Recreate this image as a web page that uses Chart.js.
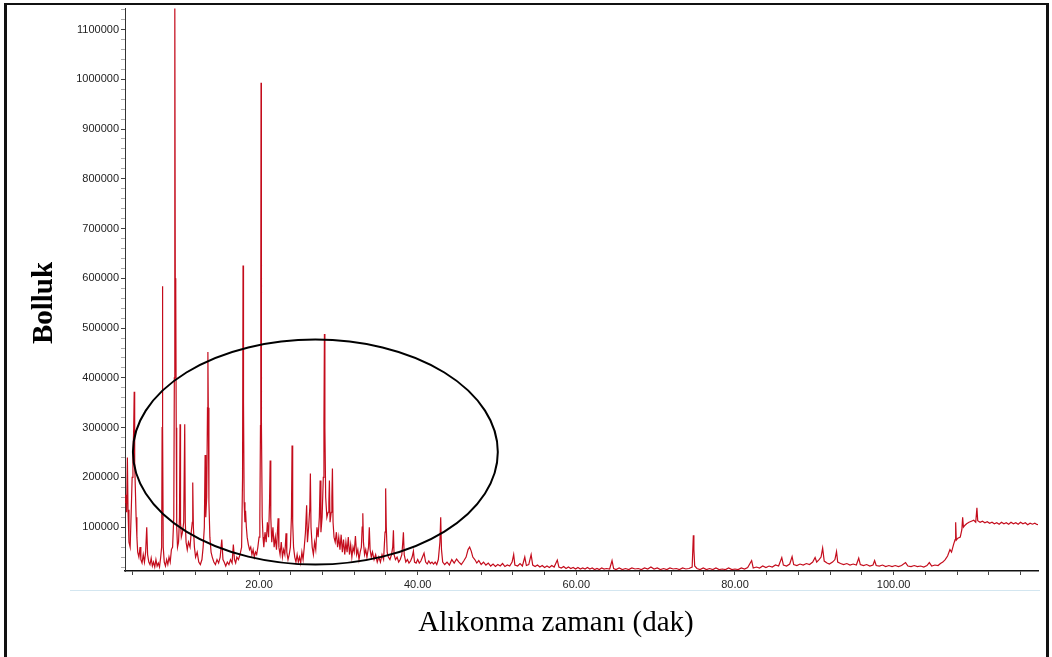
<!DOCTYPE html>
<html>
<head>
<meta charset="utf-8">
<title>Kromatogram</title>
<script src="https://cdn.jsdelivr.net/npm/chart.js@4"></script>
<style>
    html, body { margin: 0; padding: 0; background: #fff; }
    #wrap { position: relative; width: 1052px; height: 657px; overflow: hidden; }
    #chart { position: absolute; left: 0; top: 0; }
    .frame {
        position: absolute; left: 4px; top: 3px; width: 1039px; height: 720px;
        border-left: 3px solid #111; border-top: 2px solid #111; border-right: 3px solid #111;
    }
    .panel-edge { position: absolute; left: 70px; top: 590px; width: 970px; height: 1px; background: #d3e6f0; }
    .y-title {
        position: absolute; left: 42px; top: 303px;
        font: bold 29px "Liberation Serif", "Times New Roman", serif; line-height: 1;
        transform: translate(-50%, -50%) rotate(-90deg); white-space: nowrap; color: #000;
    }
    .x-title {
        position: absolute; left: 556px; top: 607px;
        font: 29px "Liberation Serif", "Times New Roman", serif; line-height: 1;
        transform: translateX(-50%); white-space: nowrap; color: #000;
    }
</style>
</head>
<body>
<div id="wrap">
    <canvas id="chart" width="1052" height="657"></canvas>
    <div class="panel-edge"></div>
    <div class="frame"></div>
    <div class="y-title">Bolluk</div>
    <div class="x-title">Alıkonma zamanı (dak)</div>
</div>
<script>
(function() {
    'use strict';

    // ===================================
    // Data
    // ===================================

    // 3 - 20.5 dak: big early peaks
    const timesA = [
        3.10, 3.20, 3.30, 3.40, 3.48, 3.60, 3.75, 3.90, 4.00, 4.10, 4.20, 4.26, 4.32, 4.40, 4.50, 4.60,
        4.70, 4.85, 5.00, 5.10, 5.25, 5.40, 5.55, 5.70, 5.84, 5.95, 6.10, 6.25, 6.40, 6.55, 6.70, 6.85,
        7.00, 7.15, 7.30, 7.45, 7.60, 7.72, 7.78, 7.82, 7.86, 7.92, 8.05, 8.20, 8.35, 8.50, 8.65, 8.80,
        8.95, 9.10, 9.25, 9.32, 9.36, 9.40, 9.44, 9.50, 9.56, 9.62, 9.72, 9.85, 9.97, 10.04, 10.10, 10.20,
        10.35, 10.50, 10.63, 10.70, 10.80, 10.95, 11.10, 11.30, 11.45, 11.58, 11.64, 11.72, 11.85, 12.00,
        12.20, 12.40, 12.60, 12.80, 12.95, 13.10, 13.20, 13.28, 13.40, 13.50, 13.55, 13.60, 13.68, 13.80,
        13.95, 14.10, 14.30, 14.50, 14.70, 14.90, 15.10, 15.30, 15.45, 15.60, 15.80, 16.00, 16.20, 16.40,
        16.60, 16.76, 16.90, 17.05, 17.20, 17.40, 17.60, 17.80, 17.92, 17.98, 18.04, 18.12, 18.22, 18.30,
        18.40, 18.50, 18.65, 18.80, 18.95, 19.10, 19.25, 19.40, 19.55, 19.70, 19.85, 20.00, 20.10, 20.18,
        20.22, 20.25, 20.28, 20.32, 20.40, 20.50
    ];
    const abundanceA = [
        150000, 165000, 130000, 240000, 135000, 70000, 60000, 140000, 200000, 240000, 300000, 372000, 230000, 180000, 120000, 80000,
        50000, 40000, 60000, 35000, 28000, 45000, 30000, 50000, 100000, 45000, 30000, 25000, 38000, 22000, 30000, 20000,
        35000, 22000, 28000, 20000, 40000, 60000, 300000, 584000, 300000, 60000, 30000, 22000, 35000, 25000, 40000, 30000,
        55000, 60000, 120000, 400000, 608000, 1160000, 600000, 571000, 300000, 100000, 60000, 70000, 120000, 307000, 110000, 80000,
        90000, 110000, 307000, 110000, 70000, 55000, 70000, 60000, 90000, 110000, 190000, 100000, 60000, 40000,
        50000, 30000, 25000, 35000, 60000, 100000, 245000, 120000, 160000, 340000, 452000, 340000, 150000, 80000,
        50000, 40000, 30000, 25000, 35000, 28000, 40000, 75000, 35000, 30000, 22000, 30000, 25000, 35000,
        28000, 65000, 35000, 28000, 40000, 35000, 45000, 60000, 200000, 626000, 352000, 150000, 110000, 133000,
        100000, 80000, 65000, 55000, 60000, 45000, 55000, 40000, 50000, 45000, 60000, 80000, 120000, 304000,
        586000, 993000, 586000, 304000, 120000, 80000
    ];

    // 20.5 - 46 dak: dense mid region (inside the ellipse)
    const timesB = [
        20.60, 20.75, 20.90, 21.05, 21.20, 21.32, 21.40, 21.48, 21.60, 21.75, 21.90, 22.05, 22.20, 22.40, 22.50, 22.65,
        22.80, 22.95, 23.10, 23.25, 23.40, 23.50, 23.65, 23.80, 23.95, 24.08, 24.16, 24.24, 24.35, 24.50, 24.65, 24.80,
        24.95, 25.10, 25.25, 25.40, 25.55, 25.70, 25.85, 26.00, 26.10, 26.25, 26.40, 26.47, 26.55, 26.70, 26.85, 27.00,
        27.15, 27.30, 27.45, 27.60, 27.70, 27.80, 27.95, 28.10, 28.18, 28.24, 28.30, 28.40, 28.55, 28.70, 28.80, 28.87,
        28.95, 29.10, 29.18, 29.25, 29.33, 29.45, 29.60, 29.75, 29.90, 30.05, 30.20, 30.35, 30.50, 30.65, 30.80, 30.95,
        31.10, 31.25, 31.40, 31.55, 31.70, 31.85, 32.00, 32.15, 32.30, 32.45, 32.60, 32.75, 32.90, 33.00, 33.08, 33.16,
        33.30, 33.45, 33.60, 33.80, 33.90, 34.00, 34.15, 34.30, 34.50, 34.70, 34.90, 35.10, 35.30, 35.50, 35.70, 35.88,
        35.96, 36.04, 36.15, 36.30, 36.50, 36.70, 36.85, 36.94, 37.02, 37.20, 37.40, 37.60, 37.80, 38.00, 38.12, 38.20,
        38.30, 38.50, 38.70, 38.90, 39.10, 39.30, 39.46, 39.60, 39.80, 40.00, 40.20, 40.40, 40.60, 40.80, 41.00, 41.20,
        41.40, 41.60, 41.80, 42.00, 42.20, 42.40, 42.60, 42.80, 42.90, 43.00, 43.15, 43.40, 43.70, 44.00, 44.30, 44.60,
        44.90, 45.20, 45.50, 45.80
    ];
    const abundanceB = [
        60000, 90000, 70000, 110000, 80000, 150000, 234000, 120000, 70000, 100000, 60000, 80000, 55000, 118000, 60000, 45000,
        70000, 40000, 55000, 45000, 88000, 50000, 35000, 45000, 60000, 120000, 264000, 110000, 60000, 40000, 30000, 45000,
        30000, 40000, 28000, 50000, 35000, 60000, 90000, 144000, 70000, 100000, 140000, 208000, 100000, 60000, 45000, 70000,
        55000, 100000, 80000, 120000, 194000, 90000, 120000, 200000, 308000, 488000, 300000, 160000, 120000, 130000, 150000, 194000,
        110000, 130000, 160000, 218000, 110000, 80000, 70000, 90000, 60000, 80000, 55000, 85000, 50000, 75000, 45000, 70000,
        50000, 80000, 45000, 65000, 40000, 60000, 50000, 82000, 45000, 55000, 35000, 50000, 60000, 100000, 128000, 70000,
        45000, 55000, 40000, 60000, 100000, 55000, 40000, 50000, 35000, 45000, 30000, 40000, 30000, 45000, 35000, 90000,
        178000, 100000, 50000, 40000, 35000, 45000, 60000, 94000, 45000, 35000, 40000, 30000, 35000, 45000, 70000, 90000,
        45000, 30000, 35000, 28000, 32000, 40000, 52000, 30000, 28000, 35000, 28000, 32000, 40000, 48000, 30000, 26000,
        32000, 27000, 30000, 26000, 30000, 25000, 35000, 70000, 120000, 55000, 30000, 25000, 30000, 24000, 35000, 28000,
        36000, 30000, 25000, 32000
    ];

    // 46 - 105 dak: quiet baseline
    const timesC = [
        46.10, 46.35, 46.55, 46.75, 46.95, 47.20, 47.45, 47.70, 48.00, 48.30, 48.60, 48.90, 49.20, 49.50, 49.80, 50.10,
        50.40, 50.70, 51.00, 51.30, 51.60, 51.90, 52.10, 52.25, 52.60, 52.90, 53.20, 53.50, 53.70, 54.00, 54.30, 54.50,
        54.80, 55.10, 55.40, 55.70, 56.00, 56.30, 56.60, 56.90, 57.20, 57.60, 57.80, 58.10, 58.40, 58.70, 59.00, 59.30,
        59.60, 59.90, 60.20, 60.50, 60.80, 61.10, 61.40, 61.70, 62.00, 62.30, 62.60, 62.90, 63.20, 63.50, 63.80, 64.20,
        64.50, 64.70, 65.00, 65.40, 65.80, 66.20, 66.60, 67.00, 67.40, 67.80, 68.20, 68.60, 69.00, 69.40, 69.80, 70.20,
        70.60, 71.00, 71.40, 71.80, 72.20, 72.60, 73.00, 73.40, 73.80, 74.20, 74.60, 74.75, 74.82, 74.92, 75.20, 75.60,
        76.00, 76.40, 76.80, 77.20, 77.60, 78.00, 78.40, 78.80, 79.20, 79.60, 80.00, 80.40, 80.80, 81.20, 81.60, 82.10,
        82.30, 82.70, 83.10, 83.50, 83.90, 84.30, 84.70, 85.10, 85.50, 85.90, 86.10, 86.50, 86.90, 87.20, 87.40, 87.80,
        88.20, 88.60, 89.00, 89.40, 89.80, 90.10, 90.30, 90.60, 90.85, 91.05, 91.25, 91.60, 91.90, 92.30, 92.60, 92.80,
        92.95, 93.30, 93.70, 94.10, 94.50, 94.90, 95.30, 95.60, 95.80, 96.20, 96.60, 97.00, 97.40, 97.60, 97.80, 98.20,
        98.60, 99.00, 99.40, 99.80, 100.20, 100.60, 101.00, 101.50, 101.80, 102.20, 102.60, 103.00, 103.40, 103.80, 104.20, 104.50,
        104.80
    ];
    const abundanceC = [
        40000, 55000, 60000, 52000, 40000, 35000, 28000, 33000, 25000, 30000, 24000, 28000, 22000, 26000, 21000, 25000,
        22000, 27000, 21000, 24000, 22000, 30000, 45000, 24000, 22000, 27000, 22000, 40000, 23000, 25000, 45000, 24000,
        21000, 24000, 20000, 23000, 19000, 22000, 19000, 23000, 20000, 34000, 20000, 18000, 21000, 17000, 20000, 17000,
        19000, 16000, 19000, 16000, 18000, 16000, 19000, 16000, 18000, 15000, 17000, 15000, 18000, 16000, 17000, 16000,
        33000, 17000, 15000, 18000, 15000, 17000, 15000, 18000, 16000, 17000, 15000, 18000, 16000, 20000, 16000, 18000,
        15000, 17000, 15000, 18000, 16000, 17000, 15000, 18000, 16000, 17000, 20000, 84000, 55000, 22000, 17000, 15000,
        18000, 15000, 17000, 15000, 18000, 15000, 16000, 15000, 18000, 15000, 16000, 15000, 18000, 16000, 19000, 33000,
        18000, 20000, 18000, 22000, 19000, 22000, 20000, 24000, 22000, 39000, 24000, 22000, 26000, 41000, 25000, 23000,
        26000, 24000, 27000, 25000, 30000, 39000, 30000, 35000, 40000, 58000, 32000, 28000, 26000, 30000, 35000, 51000,
        30000, 27000, 25000, 27000, 24000, 26000, 24000, 38000, 25000, 23000, 25000, 22000, 24000, 33000, 23000, 22000,
        24000, 21000, 23000, 21000, 23000, 21000, 23000, 29000, 22000, 21000, 23000, 21000, 22000, 20000, 23000, 29000,
        22000
    ];

    // 105 - 118.3 dak: column bleed plateau
    const timesD = [
        105.20, 105.60, 105.90, 106.20, 106.50, 106.80, 107.10, 107.30, 107.55, 107.75, 107.82, 107.90, 108.10, 108.40, 108.60, 108.70,
        108.80, 109.00, 109.20, 109.50, 109.80, 110.10, 110.35, 110.50, 110.60, 110.90, 111.20, 111.50, 111.80, 112.10, 112.40, 112.70,
        113.00, 113.30, 113.60, 113.90, 114.20, 114.50, 114.80, 115.10, 115.40, 115.70, 116.00, 116.30, 116.60, 116.90, 117.20, 117.50,
        117.80, 118.10, 118.30
    ];
    const abundanceD = [
        24000, 23000, 27000, 30000, 35000, 42000, 55000, 50000, 65000, 75000, 110000, 74000, 78000, 80000, 95000, 120000,
        100000, 104000, 107000, 110000, 112000, 114000, 110000, 139000, 113000, 110000, 112000, 109000, 111000, 108000, 110000, 107000,
        109000, 106000, 110000, 107000, 109000, 106000, 110000, 107000, 109000, 106000, 110000, 107000, 109000, 105000, 108000, 106000,
        108000, 105000, 106000
    ];

    // Axis ranges and ticks
    const xRange = [3.1, 118.2];
    const yRange = [12000, 1142000];
    const xTickValues = [4, 8, 12, 16, 20, 24, 28, 32, 36, 40, 44, 48, 52, 56, 60, 64, 68, 72, 76, 80,
                         84, 88, 92, 96, 100, 104, 108, 112, 116];
    const xLabelValues = [20, 40, 60, 80, 100];
    const yLabelValues = [100000, 200000, 300000, 400000, 500000, 600000, 700000, 800000, 900000, 1000000, 1100000];
    const yMinorStep = 20000;

    // Hand-drawn ellipse around 4 - 50 dak (centre and radii in data units)
    const ellipseCenter = [27.1, 251000];
    const ellipseRadius = [23.0, 226000];

    const retentionTimes = timesA.concat(timesB, timesC, timesD);
    const abundance = abundanceA.concat(abundanceB, abundanceC, abundanceD);

    // minor y ticks every 20000 inside the range
    const yTickValues = [];
    for (let v = Math.ceil(yRange[0] / yMinorStep) * yMinorStep; v <= yRange[1]; v += yMinorStep) {
        yTickValues.push(v);
    }

    // ===================================
    // Plugins
    // ===================================

    const ellipsePlugin = {
        id: 'highlightEllipse',
        afterDatasetsDraw(chart) {
            const { ctx, scales: { x, y } } = chart;
            const cx = x.getPixelForValue(ellipseCenter[0]);
            const cy = y.getPixelForValue(ellipseCenter[1]);
            const rx = x.getPixelForValue(ellipseCenter[0] + ellipseRadius[0]) - cx;
            const ry = cy - y.getPixelForValue(ellipseCenter[1] + ellipseRadius[1]);
            ctx.save();
            ctx.beginPath();
            ctx.ellipse(cx, cy, rx, ry, 0, 0, Math.PI * 2);
            ctx.lineWidth = 2;
            ctx.strokeStyle = '#000';
            ctx.stroke();
            ctx.restore();
        }
    };

    const tickFont = { family: '"Liberation Sans", Arial, sans-serif', size: 11 };

    // ===================================
    // Chart
    // ===================================

    new Chart(document.getElementById('chart'), {
        type: 'line',
        data: {
            datasets: [{
                label: 'Bolluk',
                data: retentionTimes.map((t, i) => ({ x: t, y: abundance[i] })),
                borderColor: 'rgb(196, 12, 28)',
                borderWidth: 1.2,
                pointRadius: 0,
                tension: 0,
                fill: false
            }]
        },
        options: {
            responsive: false,
            animation: false,
            layout: { padding: { left: 20, right: 14, top: 6, bottom: 0 } },
            plugins: {
                legend: { display: false },
                tooltip: { enabled: false }
            },
            scales: {
                x: {
                    type: 'linear',
                    min: xRange[0],
                    max: xRange[1],
                    afterBuildTicks: function(scale) {
                        scale.ticks = xTickValues.map(v => ({ value: v }));
                    },
                    afterFit: function(scale) { scale.height = 86; },
                    ticks: {
                        autoSkip: false,
                        maxRotation: 0,
                        padding: 3,
                        color: '#222',
                        font: tickFont,
                        callback: function(value) {
                            return xLabelValues.includes(value) ? value.toFixed(2) : '';
                        }
                    },
                    grid: { drawOnChartArea: false, drawTicks: true, tickLength: 4, tickColor: '#444' },
                    border: { display: true, color: '#111', width: 1.5 }
                },
                y: {
                    type: 'linear',
                    min: yRange[0],
                    max: yRange[1],
                    afterBuildTicks: function(scale) {
                        scale.ticks = yTickValues.map(v => ({ value: v }));
                    },
                    afterFit: function(scale) { scale.width = 105; },
                    ticks: {
                        autoSkip: false,
                        padding: 2,
                        color: '#222',
                        font: tickFont,
                        callback: function(value) {
                            return yLabelValues.includes(value) ? String(value) : '';
                        }
                    },
                    grid: {
                        drawOnChartArea: false,
                        drawTicks: true,
                        tickLength: 4,
                        tickColor: function(c) {
                            return c.tick && yLabelValues.includes(c.tick.value) ? '#444' : '#aaa';
                        }
                    },
                    border: { display: true, color: '#333', width: 1 }
                }
            }
        },
        plugins: [ellipsePlugin]
    });

})();
</script>
</body>
</html>
